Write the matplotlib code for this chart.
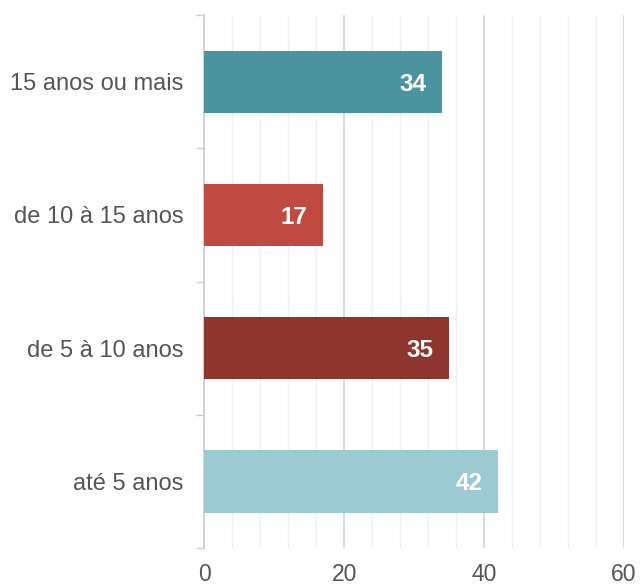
import numpy as np
import matplotlib
matplotlib.use('Agg')
import matplotlib.pyplot as plt
from matplotlib.ticker import MultipleLocator, FixedLocator

plt.rcParams['font.family'] = ['Liberation Sans', 'DejaVu Sans']

categories = ['até 5 anos', 'de 5 à 10 anos', 'de 10 à 15 anos', '15 anos ou mais']
values = [42, 35, 17, 34]
colors = ['#9bcad2', '#8e352e', '#c04a3f', '#4a94a0']

fig = plt.figure(figsize=(6.4, 5.86), dpi=100)
ax = fig.add_axes([0.319, 0.065, 0.656, 0.909])

y = np.arange(len(categories))
ax.barh(y, values, height=0.47, color=colors, zorder=3)

for yi, v in zip(y, values):
    ax.annotate(str(v), (v, yi), xytext=(-11, 0), textcoords='offset points',
                color='white', fontsize=17.5, fontweight='bold',
                ha='right', va='center_baseline', zorder=4)

ax.set_xlim(0, 60)
ax.set_ylim(-0.5, len(categories) - 0.5)

ax.xaxis.set_major_locator(MultipleLocator(20))
ax.xaxis.set_minor_locator(MultipleLocator(4))
ax.grid(axis='x', which='major', color='#d4d4d4', linewidth=1.2, zorder=0)
ax.grid(axis='x', which='minor', color='#efefef', linewidth=1.0, zorder=0)
ax.tick_params(axis='x', which='both', length=0, labelsize=16.5,
               labelcolor='#555555', pad=11)

ax.set_yticks(y)
ax.set_yticklabels(categories)
ax.yaxis.set_minor_locator(FixedLocator(np.arange(-0.5, len(categories), 1)))
ax.tick_params(axis='y', which='major', length=0, labelsize=17,
               labelcolor='#555555', pad=15)
ax.tick_params(axis='y', which='minor', length=6, color='#cccccc', width=1)

for s in ['top', 'right', 'bottom']:
    ax.spines[s].set_visible(False)
ax.spines['left'].set_color('#cccccc')
ax.spines['left'].set_linewidth(1.2)

fig.savefig('out.png', dpi=100)
